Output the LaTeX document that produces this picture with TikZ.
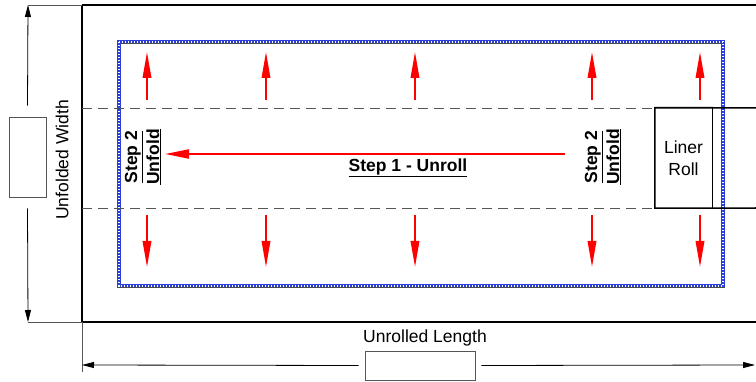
\documentclass[tikz,border=0pt]{standalone}
\usepackage{fontspec}
\setmainfont{Liberation Sans}
\usetikzlibrary{positioning,arrows.meta,calc}
\definecolor{linerblue}{HTML}{2B3FD6}
\definecolor{flowred}{HTML}{FF0000}
\definecolor{dimgray}{HTML}{555555}
\tikzset{
  flowarrow/.style={draw=flowred, line width=1.8pt, -{Triangle[length=26pt,width=8.5pt]}},
  dimarrow/.style={draw=black, line width=0.8pt, -{Triangle[length=12pt,width=6pt]}},
  extline/.style={draw=dimgray, line width=0.8pt},
  dimbox/.style={draw=dimgray, line width=0.8pt, fill=white, inner sep=0pt},
  foldline/.style={draw=dimgray, line width=0.9pt, dash pattern=on 10pt off 6pt},
  stepnote/.style={font=\fontsize{17.5}{22}\selectfont\bfseries, align=center, rotate=90}
}
\begin{document}
\begin{tikzpicture}[x=1pt,y=-1pt]
\clip (0,0) rectangle (756,382);
\fill[white] (0,0) rectangle (756,382);
% outer field
\draw[line width=2pt] (82,5) -- (770,5);
\draw[line width=2pt] (82,322) -- (770,322);
\draw[line width=1.6pt] (82,5) -- (82,322);
% liner border
\draw[line width=4.2pt, draw=black!70] (119,42) rectangle (723,286);
\draw[line width=3pt, draw=linerblue] (119,42) rectangle (723,286);
\draw[line width=1.2pt, draw=white, dash pattern=on 1.2pt off 1.8pt] (119,42) rectangle (723,286);
% fold lines and roll
\draw[foldline] (82,108) -- (655,108);
\draw[foldline] (82,208) -- (655,208);
\node[minimum width=57pt, minimum height=100pt, inner sep=0pt,
  font=\fontsize{17.5}{22}\selectfont, align=center] (roll) at (683.5,158) {Liner\\Roll};
\draw[line width=1.6pt] (770,108) -- (roll.north east) -- (roll.north west)
  -- (roll.south west) -- (roll.south east) -- (770,208);
\draw[line width=0.9pt] (roll.north east) -- (roll.south east);
% unfold arrows
\foreach \xa in {147,266,415,592,700} {
  \draw[flowarrow] (\xa,100) -- (\xa,52);
  \draw[flowarrow] (\xa,215) -- (\xa,267);
}
% unroll arrow
\coordinate (rollstart) at (565,154);
\coordinate (rollend) at (165,154);
\draw[flowarrow, -{Triangle[length=24pt,width=9pt]}] (rollstart) -- (rollend);
\node[font=\fontsize{17.5}{22}\selectfont\bfseries] (unroll) at (408,168) {\underline{Step 1 - Unroll}};
\node[stepnote] (foldleft) at (143,157) {\underline{Step 2}\\\underline{Unfold}};
\node[stepnote] (foldright) at (603,157) {\underline{Step 2}\\\underline{Unfold}};
% width dimension
\draw[extline] (28,5) -- (82,5);
\draw[extline] (28,322) -- (82,322);
\node[dimbox, minimum width=37pt, minimum height=80pt] (wbox) at (27.5,157) {};
\coordinate (wtop) at (28,5);
\coordinate (wbot) at (28,322);
\draw[dimarrow] ($(wbox.north)+(0,-11)$) -- (wtop);
\draw[dimarrow] ($(wbox.south)+(0,11)$) -- (wbot);
\node[font=\fontsize{17.5}{22}\selectfont, rotate=90] (wlabel) at (62,160) {Unfolded Width};
% length dimension
\draw[extline] (82,322) -- (82,372);
\node[dimbox, minimum width=110pt, minimum height=29pt] (lbox) at (420,365.5) {};
\coordinate (lleft) at (82,365);
\coordinate (lright) at (755,365);
\draw[dimarrow] ($(lbox.west)+(-6,0)$) -- (lleft);
\draw[dimarrow] ($(lbox.east)+(6,0)$) -- (lright);
\node[font=\fontsize{17.5}{22}\selectfont] (llabel) at (425,338) {Unrolled Length};
\end{tikzpicture}
\end{document}
